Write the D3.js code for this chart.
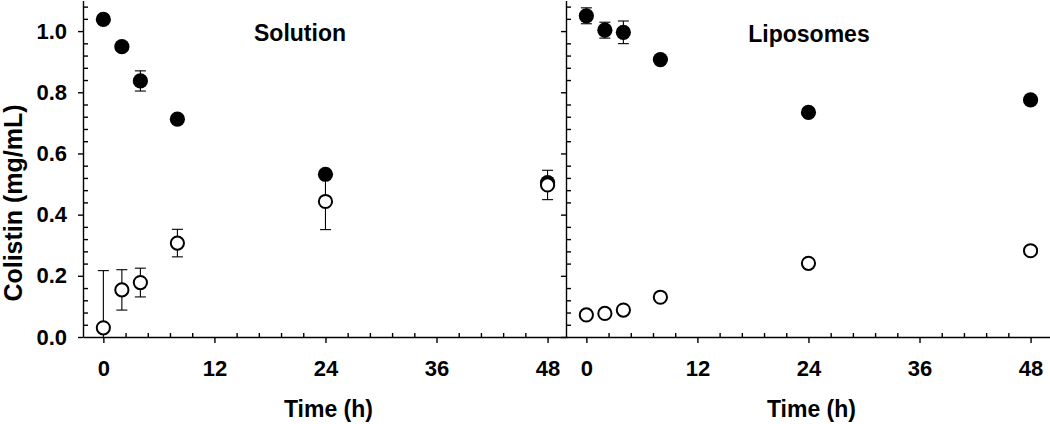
<!DOCTYPE html>
<html>
<head>
<meta charset="utf-8">
<script src="https://cdn.jsdelivr.net/npm/d3@7"></script>
<style>
  body { margin: 0; background: #fff; }
  svg { display: block; font-family: "Liberation Sans", Arial, sans-serif; }
  .axis path, .axis line { stroke: #000; stroke-width: 1.4; }
  .axis text { font-size: 22px; font-weight: bold; fill: #000; font-family: "Liberation Sans", Arial, sans-serif; }
</style>
</head>
<body>
<svg id="chart"></svg>
<script>
// Sampling times (h)
var times = [0, 2, 4, 8, 24, 48];

// Solution panel
var solFilled    = [1.038, 0.949, 0.837, 0.712, 0.532, 0.505];
var solFilledErr = [0.010, 0.008, 0.033, 0.008, 0.010, 0.015];
var solOpen      = [0.030, 0.154, 0.178, 0.307, 0.443, 0.497];
var solOpenErr   = [0.187, 0.066, 0.047, 0.045, 0.092, 0.048];

// Liposomes panel
var lipFilled    = [1.050, 1.003, 0.996, 0.907, 0.734, 0.775];
var lipFilledErr = [0.026, 0.026, 0.037, 0.008, 0.008, 0.008];
var lipOpen      = [0.072, 0.077, 0.088, 0.130, 0.241, 0.282];
var lipOpenErr   = [0.006, 0.006, 0.008, 0.010, 0.010, 0.010];

// Tick labels
var yTicks = [0, 0.2, 0.4, 0.6, 0.8, 1.0];
var xTicks = [0, 12, 24, 36, 48];

var panels = [
    { title: "Solution",  tx: 300, ty: 41, filled: solFilled, filledErr: solFilledErr, open: solOpen, openErr: solOpenErr },
    { title: "Liposomes", tx: 809, ty: 42, filled: lipFilled, filledErr: lipFilledErr, open: lipOpen, openErr: lipOpenErr }
];

var width = 1050, height = 424;
var svg = d3.select("#chart").attr("width", width).attr("height", height);

var y = d3.scaleLinear().domain([0, 1.1]).range([337, 0.5]);
var yMinor = d3.range(0.04, 1.1, 0.04).filter(function (v) { return Math.abs(v / 0.2 - Math.round(v / 0.2)) > 0.01; });
var xMinor = d3.range(2.4, 48, 2.4).filter(function (v) { return Math.abs(v / 12 - Math.round(v / 12)) > 0.01; });

var panelRanges = [[83, 567], [566, 1050]];
var r = 7.6;

svg.append("clipPath").attr("id", "plotclip")
    .append("rect").attr("x", 0).attr("y", 0).attr("width", width).attr("height", 337);

panels.forEach(function (p, pi) {
    var x = d3.scaleLinear().domain([-2.2, 50.1]).range(panelRanges[pi]);
    var x0 = panelRanges[pi][0];
    var g = svg.append("g");

    // minor ticks point inward
    g.append("g").attr("class", "axis").attr("transform", "translate(0,337)")
        .call(d3.axisBottom(x).tickValues(xMinor).tickSize(-4).tickFormat(""))
        .select(".domain").remove();
    g.append("g").attr("class", "axis").attr("transform", "translate(" + x0 + ",0)")
        .call(d3.axisLeft(y).tickValues(yMinor).tickSize(-5).tickFormat(""))
        .select(".domain").remove();

    // major ticks point outward
    g.append("g").attr("class", "axis").attr("transform", "translate(0,337)")
        .call(d3.axisBottom(x).tickValues(xTicks).tickSizeInner(6).tickSizeOuter(0).tickPadding(17).tickFormat(d3.format("d")));
    var ya = g.append("g").attr("class", "axis").attr("transform", "translate(" + x0 + ",0)")
        .call(d3.axisLeft(y).tickValues(yTicks).tickSizeInner(5).tickSizeOuter(0).tickPadding(11).tickFormat(d3.format(".1f")));
    if (pi === 1) ya.selectAll("text").remove();

    // axis title
    g.append("text")
        .attr("x", (x(0) + x(48)) / 2 + 3).attr("y", 417)
        .attr("text-anchor", "middle")
        .style("font-size", "23px").style("font-weight", "bold")
        .text("Time (h)");

    // panel title
    g.append("text")
        .attr("x", p.tx).attr("y", p.ty)
        .attr("text-anchor", "middle")
        .style("font-size", "23px").style("font-weight", "bold")
        .text(p.title);

    var plot = g.append("g").attr("clip-path", "url(#plotclip)");

    // error bars
    [[p.filled, p.filledErr], [p.open, p.openErr]].forEach(function (s) {
        var vals = s[0], errs = s[1];
        times.forEach(function (t, i) {
            var cx = x(t), lo = y(vals[i] - errs[i]), hi = y(vals[i] + errs[i]);
            plot.append("line").attr("x1", cx).attr("x2", cx).attr("y1", lo).attr("y2", hi)
                .attr("stroke", "#000").attr("stroke-width", 1.1);
            [lo, hi].forEach(function (yy) {
                plot.append("line").attr("x1", cx - 5.5).attr("x2", cx + 5.5).attr("y1", yy).attr("y2", yy)
                    .attr("stroke", "#000").attr("stroke-width", 1.1);
            });
        });
    });

    // filled circles
    plot.selectAll(".filled").data(times).enter().append("circle")
        .attr("cx", function (d) { return x(d); })
        .attr("cy", function (d, i) { return y(p.filled[i]); })
        .attr("r", r).attr("fill", "#000");

    // open circles
    plot.selectAll(".open").data(times).enter().append("circle")
        .attr("cx", function (d) { return x(d); })
        .attr("cy", function (d, i) { return y(p.open[i]); })
        .attr("r", r - 1).attr("fill", "#fff").attr("stroke", "#000").attr("stroke-width", 2);
});

// y axis title
svg.append("text")
    .attr("transform", "translate(22,203) rotate(-90)")
    .attr("text-anchor", "middle")
    .style("font-size", "25px").style("font-weight", "bold")
    .text("Colistin (mg/mL)");
</script>
</body>
</html>
